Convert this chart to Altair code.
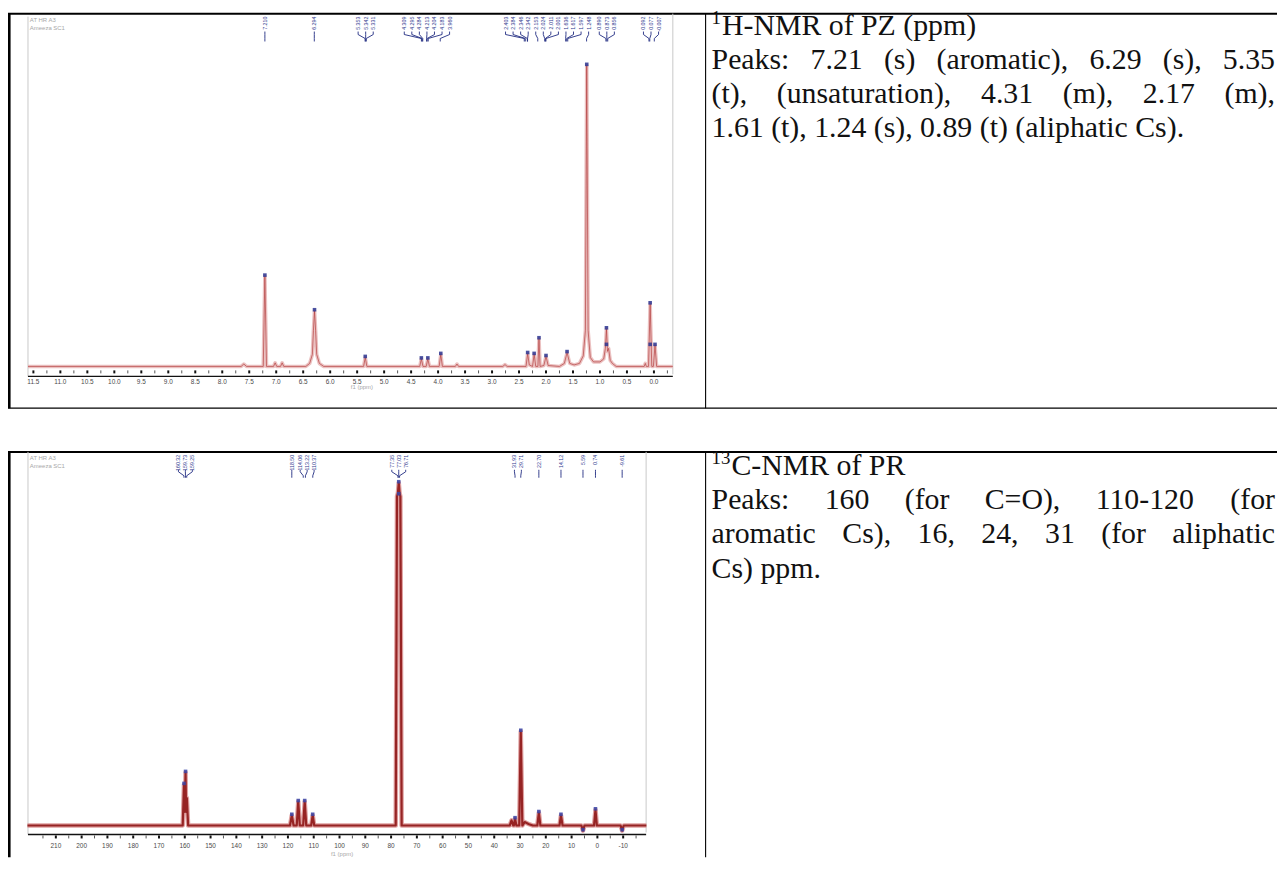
import altair as alt
import pandas as pd

# ---------------- 1H-NMR trace (ppm, relative intensity) ----------------
h_ppm = [11.60,
         7.65, 7.60, 7.55,
         7.24, 7.21, 7.18,
         7.05, 7.02, 6.99,
         6.92, 6.89, 6.86,
         6.45, 6.38, 6.33, 6.31, 6.29, 6.27, 6.25, 6.20, 6.12,
         5.38, 5.35, 5.32,
         4.34, 4.31, 4.28,
         4.22, 4.19, 4.16,
         3.98, 3.95, 3.92,
         3.68, 3.65, 3.62,
         2.80, 2.76, 2.72,
         2.37, 2.34, 2.31,
         2.25, 2.22, 2.19,
         2.15, 2.13, 2.11,
         2.04, 2.00, 1.96,
         1.75, 1.66, 1.61, 1.56, 1.48,
         1.38, 1.31, 1.27, 1.245, 1.22, 1.18, 1.12,
         1.00, 0.93, 0.90, 0.88, 0.86, 0.84, 0.81, 0.77, 0.70,
         0.18, 0.16, 0.14,
         0.10, 0.07, 0.04,
         0.01, -0.02, -0.05,
         -0.35]
h_int = [0,
         0, 0.008, 0,
         0, 0.30, 0,
         0, 0.012, 0,
         0, 0.012, 0,
         0, 0.01, 0.04, 0.12, 0.185, 0.12, 0.04, 0.01, 0,
         0, 0.03, 0,
         0, 0.025, 0,
         0, 0.025, 0,
         0, 0.04, 0,
         0, 0.008, 0,
         0, 0.006, 0,
         0, 0.043, 0.005,
         0, 0.04, 0,
         0, 0.092, 0,
         0.003, 0.033, 0.003,
         0, 0.01, 0.046, 0.01, 0.005,
         0.01, 0.035, 0.12, 1.0, 0.12, 0.03, 0.015,
         0.015, 0.025, 0.06, 0.125, 0.05, 0.06, 0.02, 0.01, 0,
         0, 0.01, 0,
         0, 0.208, 0,
         0, 0.07, 0,
         0]
h_mark_ppm = [7.21, 6.29, 5.35, 4.31, 4.19, 3.95, 2.34, 2.22, 2.13, 2.00, 1.61, 1.245, 0.88, 0.88, 0.07, 0.07, -0.02]
h_mark_int = [0.30, 0.185, 0.03, 0.025, 0.025, 0.04, 0.043, 0.04, 0.092, 0.033, 0.046, 1.0, 0.125, 0.07, 0.208, 0.07, 0.07]
h_peak_labels = ["7.210", "6.294", "5.353", "5.342", "5.331",
                 "4.309", "4.295", "4.284", "4.213", "4.204", "4.183", "3.960",
                 "2.403", "2.384", "2.346", "2.342", "2.153", "2.024", "2.011", "2.001",
                 "1.636", "1.617", "1.597", "1.248",
                 "0.890", "0.873", "0.856",
                 "0.092", "0.077", "-0.007"]
h_tick_labels = ["11.5", "11.0", "10.5", "10.0", "9.5", "9.0", "8.5", "8.0", "7.5", "7.0", "6.5", "6.0",
                 "5.5", "5.0", "4.5", "4.0", "3.5", "3.0", "2.5", "2.0", "1.5", "1.0", "0.5", "0.0"]
h_axis_extent = [11.60, -0.35]

# ---------------- 13C-NMR trace ----------------
c_ppm = [221.0,
         160.8, 160.3, 160.0, 159.7, 159.5, 159.2, 158.7,
         119.2, 118.5, 117.8,
         116.6, 116.0, 115.4,
         114.1, 113.5, 112.9,
         111.0, 110.4, 109.8,
         78.2, 77.7, 77.35, 77.03, 76.71, 76.4, 75.9,
         34.0, 33.3, 32.6,
         32.4, 31.93, 31.4,
         30.3, 29.71, 29.1,
         28.2, 26.5, 25.0,
         23.3, 22.7, 22.1,
         14.7, 14.12, 13.5,
         6.2, 5.59, 5.0,
         1.3, 0.74, 0.2,
         -9.0, -9.61, -10.2,
         -19.0]
c_int = [0,
         0, 0.12, 0.04, 0.155, 0.04, 0.08, 0,
         0, 0.03, 0,
         0, 0.07, 0,
         0, 0.07, 0,
         0, 0.03, 0,
         0, 0.96, 0.97, 1.0, 0.97, 0.96, 0,
         0, 0.015, 0,
         0, 0.02, 0,
         0, 0.275, 0,
         0.01, 0.004, 0,
         0, 0.038, 0,
         0, 0.03, 0,
         0, -0.015, 0,
         0, 0.046, 0,
         0, -0.015, 0,
         0]
c_mark_ppm = [160.3, 159.7, 118.5, 116.0, 113.5, 110.4, 77.03, 77.03, 31.93, 29.71, 22.7, 14.12, 5.59, 0.74, -9.61]
c_mark_int = [0.12, 0.155, 0.03, 0.07, 0.07, 0.03, 1.0, 0.965, 0.02, 0.275, 0.038, 0.03, -0.015, 0.046, -0.015]
c_peak_labels = ["160.32", "159.73", "159.25", "118.50", "114.06", "113.22", "110.37",
                 "77.35", "77.03", "76.71", "31.93", "29.71", "22.70", "14.12", "5.59", "0.74", "-9.61"]
c_tick_labels = ["210", "200", "190", "180", "170", "160", "150", "140", "130", "120", "110", "100",
                 "90", "80", "70", "60", "50", "40", "30", "20", "10", "0", "-10"]
c_axis_extent = [220.8, -18.9]

# ---------------- table text ----------------
h_title_sup, h_title = "1", "H-NMR of PZ (ppm)"
h_lines = ["Peaks: 7.21 (s) (aromatic), 6.29 (s), 5.35",
           "(t), (unsaturation), 4.31 (m), 2.17 (m),",
           "1.61 (t), 1.24 (s), 0.89 (t) (aliphatic Cs)."]
c_title_sup, c_title = "13", "C-NMR of PR"
c_lines = ["Peaks: 160 (for C=O), 110-120 (for",
           "aromatic Cs), 16, 24, 31 (for aliphatic",
           "Cs) ppm."]

# ---------------- helpers ----------------
ONE = pd.DataFrame({"a": [0]})
SERIF = "Liberation Serif"
SANS = "Liberation Sans"
TW = {' ': 250, 'P': 556, 'e': 444, 'a': 444, 'k': 500, 's': 389, ':': 278, '.': 250, '(': 333,
      ')': 333, 'r': 333, 'o': 500, 'm': 778, 't': 278, 'i': 278, 'c': 444, ',': 250, 'u': 500,
      'n': 500, 'f': 333, 'C': 667, '=': 564, 'O': 722, '-': 333, 'l': 278, 'p': 500, 'h': 500,
      'H': 722, 'N': 722, 'M': 889, 'R': 667, 'Z': 611}


def tw(s, size):
    return sum(TW.get(ch, 500) for ch in s) * size / 1000.0


def prule(x1, y1, x2, y2, color="black", w=1.0):
    return alt.Chart(ONE).mark_rule(color=color, strokeWidth=w).encode(
        x=alt.value(x1), x2=alt.value(x2), y=alt.value(y1), y2=alt.value(y2))


def spread(targets, d):
    u = [-t for t in targets]
    clusters = []
    for ui in u:
        clusters.append([1, ui])
        while len(clusters) > 1:
            a, b = clusters[-2], clusters[-1]
            a_end = a[1] + (a[0] - 1) / 2 * d
            b_start = b[1] - (b[0] - 1) / 2 * d
            if b_start - a_end < d:
                n = a[0] + b[0]
                c = (a[1] * a[0] + b[1] * b[0]) / n
                clusters[-2:] = [[n, c]]
            else:
                break
    pos = []
    for n, c in clusters:
        for k in range(n):
            pos.append(-(c + (k - (n - 1) / 2) * d))
    return pos


def spectrum(ppm, inten, mppm, mint, labels, ticks, extent, XS, YS, cfg):
    X = lambda f: alt.X(f, scale=XS, axis=None)
    Y = lambda f: alt.Y(f, scale=YS, axis=None)
    tr = pd.DataFrame({"ppm": ppm, "i": inten})
    halo = alt.Chart(tr).mark_line(color=cfg["halo"], strokeWidth=cfg["hw"], opacity=0.85,
                                   strokeJoin="round").encode(x=X("ppm:Q"), y=Y("i:Q"))
    core = alt.Chart(tr).mark_line(color=cfg["core"], strokeWidth=cfg["cw"], opacity=cfg["co"],
                                   strokeJoin="round").encode(x=X("ppm:Q"), y=Y("i:Q"))
    mk = pd.DataFrame({"ppm": mppm, "i": mint})
    marks = alt.Chart(mk).mark_square(size=13, color=cfg["mark"], opacity=0.85, yOffset=-1).encode(
        x=X("ppm:Q"), y=Y("i:Q"))
    # axis
    ax = pd.DataFrame({"p1": [extent[0]], "p2": [extent[1]]})
    axis_line = alt.Chart(ax).mark_rule(color="#111", strokeWidth=1.4).encode(
        x=X("p1:Q"), x2="p2:Q", y=alt.value(cfg["axis_y"]))
    frame_l = alt.Chart(ax).mark_rule(color="#c9c9c9", strokeWidth=1).encode(
        x=X("p1:Q"), y=alt.value(cfg["frame_top_l"]), y2=alt.value(cfg["axis_y"]))
    frame_r = alt.Chart(ax).mark_rule(color="#c9c9c9", strokeWidth=1).encode(
        x=X("p2:Q"), y=alt.value(cfg["frame_top_r"]), y2=alt.value(cfg["axis_y"] - 2))
    major = [float(t) for t in ticks]
    step = major[0] - major[1]
    minor = [v - step / 2 for v in major] + cfg["extra_minor"](major, step)
    tmaj = pd.DataFrame({"ppm": major, "t": ticks})
    tmin = pd.DataFrame({"ppm": minor})
    ty0, ty1 = cfg["tick_y"]
    tick_major = alt.Chart(tmaj).mark_rule(color="#111", strokeWidth=2).encode(
        x=X("ppm:Q"), y=alt.value(ty0), y2=alt.value(ty1))
    tick_minor = alt.Chart(tmin).mark_rule(color="#555", strokeWidth=1).encode(
        x=X("ppm:Q"), y=alt.value(ty0), y2=alt.value(ty1))
    tick_text = alt.Chart(tmaj).mark_text(font=SANS, fontSize=6.5, color="#4a4a4a", baseline="middle").encode(
        x=X("ppm:Q"), y=alt.value(cfg["label_y"]), text="t:N")
    # peak labels
    targets = [float(s) for s in labels]
    pos = spread(targets, cfg["d"])
    pl = pd.DataFrame({"t": labels, "peak": targets, "pos": pos})
    ly = cfg["lab_y"]
    lab = alt.Chart(pl).mark_text(font=SANS, fontSize=5.3, color="#2f3a8f", angle=270, align="right",
                                  baseline="middle").encode(x=X("pos:Q"), y=alt.value(ly[0]), text="t:N")
    c1 = alt.Chart(pl).mark_rule(color="#1e2a80", strokeWidth=0.9).encode(
        x=X("pos:Q"), x2="pos:Q", y=alt.value(ly[1]), y2=alt.value(ly[2]))
    c2 = alt.Chart(pl).mark_rule(color="#1e2a80", strokeWidth=0.9).encode(
        x=X("pos:Q"), x2="peak:Q", y=alt.value(ly[2]), y2=alt.value(ly[3]))
    c3 = alt.Chart(pl).mark_rule(color="#1e2a80", strokeWidth=0.9).encode(
        x=X("peak:Q"), x2="peak:Q", y=alt.value(ly[3]), y2=alt.value(ly[4]))
    return alt.layer(frame_l, frame_r, halo, core, marks, axis_line, tick_minor, tick_major,
                     tick_text, lab, c1, c2, c3)


def justify(line, left, right, size):
    words = line.split()
    total = sum(tw(w, size) for w in words)
    gap = (right - left - total) / (len(words) - 1)
    out, x = [], left
    for w in words:
        out.append((x, w))
        x += tw(w, size) + gap
    return out


# ---------------- scales (pixel ranges inside the table cells) ----------------
HX = alt.Scale(domain=[0, 11.5], range=[650.0, 25.55], nice=False, zero=False)
HY = alt.Scale(domain=[0, 1], range=[358, 55], nice=False, zero=False)
CX = alt.Scale(domain=[0, 200], range=[593.1, 74.1], nice=False, zero=False)
CY = alt.Scale(domain=[0, 1], range=[820, 475], nice=False, zero=False)

h_cfg = dict(halo="#e8b6b6", hw=3.6, core="#b23c3c", cw=0.9, co=0.75, mark="#2c3590",
             axis_y=368, frame_top_l=6, frame_top_r=3,
             tick_y=(362, 365), label_y=374, d=7.6 / 54.3,
             extra_minor=lambda m, s: [], lab_y=(6, 21, 24, 28, 31))
c_cfg = dict(halo="#d98f8f", hw=4.5, core="#8e1616", cw=2.2, co=0.9, mark="#3a46a8",
             axis_y=829, frame_top_l=444, frame_top_r=444,
             tick_y=(830, 833), label_y=841, d=7.0 / 2.595,
             extra_minor=lambda m, s: [m[0] + s / 2], lab_y=(447, 462, 464, 468, 470))

h_spec = spectrum(h_ppm, h_int, h_mark_ppm, h_mark_int, h_peak_labels, h_tick_labels,
                  h_axis_extent, HX, HY, h_cfg)
c_spec = spectrum(c_ppm, c_int, c_mark_ppm, c_mark_int, c_peak_labels, c_tick_labels,
                  c_axis_extent, CX, CY, c_cfg)

# ---------------- small gray captions inside the spectra ----------------
small = pd.DataFrame({"x": [22, 22, 345, 22, 22, 325],
                      "y": [9, 17, 379, 450, 458, 849],
                      "t": ["AT HR A3", "Ameeza SC1", "f1 (ppm)", "AT HR A3", "Ameeza SC1", "f1 (ppm)"]})
small_text = alt.Chart(small).mark_text(font=SANS, fontSize=6, color="#a8a8a8", align="left",
                                        baseline="middle").encode(
    x=alt.X("x:Q", scale=None, axis=None), y=alt.Y("y:Q", scale=None, axis=None), text="t:N")

# ---------------- right-cell text ----------------
FS = 30
SUP = 19
LEFT, RIGHT = 708, 1275
rows = []
hb = [24, 58.5, 93, 127.5]
cb = [467, 501.5, 536, 570.5]
rows.append((LEFT + tw(h_title_sup, SUP) + 1, hb[0], h_title))
rows.append((LEFT + tw(c_title_sup, SUP) + 1, cb[0], c_title))
for k, (lines, base) in enumerate([(h_lines, hb), (c_lines, cb)]):
    for j, line in enumerate(lines):
        if j < 2:
            for x, w in justify(line, LEFT, RIGHT, FS):
                rows.append((x, base[j + 1], w))
        else:
            rows.append((LEFT, base[j + 1], line))
main_df = pd.DataFrame(rows, columns=["x", "y", "t"])
main_text = alt.Chart(main_df).mark_text(font=SERIF, fontSize=FS, color="#111", align="left",
                                         baseline="alphabetic").encode(
    x=alt.X("x:Q", scale=None, axis=None), y=alt.Y("y:Q", scale=None, axis=None), text="t:N")
sup_df = pd.DataFrame({"x": [LEFT, LEFT], "y": [hb[0] - 11, cb[0] - 11], "t": [h_title_sup, c_title_sup]})
sup_text = alt.Chart(sup_df).mark_text(font=SERIF, fontSize=SUP, color="#111", align="left",
                                       baseline="alphabetic").encode(
    x=alt.X("x:Q", scale=None, axis=None), y=alt.Y("y:Q", scale=None, axis=None), text="t:N")

# ---------------- table borders ----------------
borders = [
    prule(0, 3, 1277, 3, w=2),
    prule(1.3, 3, 1.3, 400, w=2.6),
    prule(702, 3, 702, 400, w=1.1),
    prule(0, 400, 1277, 400, w=1.1),
    prule(0, 444, 1277, 444, w=2),
    prule(1.3, 444, 1.3, 852, w=2.6),
    prule(702, 444, 702, 852, w=1.1),
]

chart = alt.layer(*borders, small_text, main_text, sup_text, h_spec, c_spec).resolve_scale(
    x="independent", y="independent"
).properties(
    width=1277, height=852, padding=0, autosize="none", background="white"
).configure_view(stroke=None)

chart.save("out.html", embed_options={"renderer": "svg", "actions": False})
